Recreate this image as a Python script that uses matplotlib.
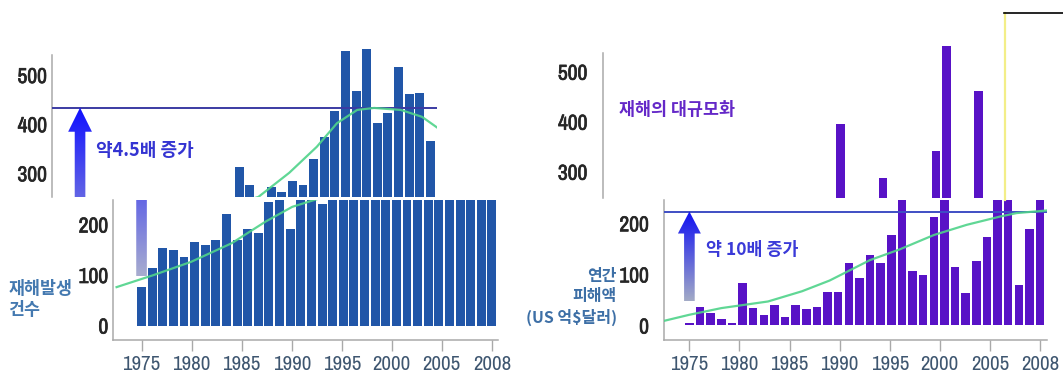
import numpy as np
import matplotlib.pyplot as plt
import matplotlib.patheffects as pe
from matplotlib import font_manager
from matplotlib.colors import LinearSegmentedColormap, Normalize
from matplotlib.patches import Polygon
from matplotlib.lines import Line2D

W, H = 1063, 377

years = np.arange(1975, 2009)
# 재해발생 건수
counts = [77, 113, 153, 150, 136, 166, 159, 169, 220, 169, 191, 184, 244, 250, 191,
          313, 276, 240, 273, 261, 285, 276, 329, 374, 427, 549, 468, 553, 403, 423,
          517, 461, 464, 366]
# 연간 피해액 (US 억$)
damage = [4, 37, 25, 12, 4, 84, 35, 21, 40, 16, 40, 32, 37, 65, 65,
          123, 92, 138, 123, 177, 395, 107, 99, 213, 287, 115, 64, 127, 174, 342,
          551, 79, 189, 462]

# trend lines
count_trend_x = [1972.65, 1976.15, 1979.66, 1983.5, 1986.7, 1989.2, 1991.8, 1994.7,
                 1997.3, 1999.2, 2001.1, 2002.7, 2005.2, 2007.2, 2008.9]
count_trend_y = [76, 100, 126, 163, 206, 235, 252, 301, 354, 402, 429, 433, 429, 415, 389]
damage_trend_x = [1972.6, 1975, 1978, 1982.4, 1985.6, 1988.2, 1990.1, 1992, 1994.8,
                  1998, 2001.1, 2004.2, 2005.8, 2008.6]
damage_trend_y = [9, 21, 34, 47, 67, 88, 108, 128, 149, 177, 197, 213, 220, 225]

count_level = 433.5
damage_level = 223

tick_labels = ['1975', '1980', '1985', '1990', '1995', '2000', '2005', '2008']
tick_pos = np.linspace(years[0], years[-1], len(tick_labels))


def narrow_font():
    fonts = font_manager.fontManager.ttflist
    for f in fonts:
        if 'Narrow' in f.name:
            return {'family': f.name}
    for f in fonts:
        if f.name == 'DejaVu Sans' and 'condensed' in str(f.stretch):
            return {'family': 'DejaVu Sans', 'stretch': 'condensed'}
    return {'family': 'Roboto'}


NUM = narrow_font()
KR = ['Noto Sans CJK KR', 'DejaVu Sans']

fig = plt.figure(figsize=(W / 100, H / 100), dpi=100)
fig.patch.set_facecolor('white')


def px_axes(x0, x1, y0, y1):
    return fig.add_axes([x0 / W, 1 - y1 / H, (x1 - x0) / W, (y1 - y0) / H])


def style_axes(ax, xlim, ylim, yticks, pad, lower, spine_top=None):
    ax.set_facecolor('none')
    ax.set_xlim(*xlim)
    ax.set_ylim(*ylim)
    for s in ['top', 'right']:
        ax.spines[s].set_visible(False)
    ax.spines['left'].set_color('#a9a9a9')
    ax.spines['left'].set_linewidth(1.1)
    if spine_top is not None:
        ax.spines['left'].set_bounds(ylim[0], spine_top)
    ax.set_yticks(yticks)
    ylabels = ax.set_yticklabels([str(t) for t in yticks], fontweight='bold',
                                 fontsize=15.5, color='#262626', **NUM)
    for t in ylabels:
        t.set_path_effects([pe.withStroke(linewidth=0.5, foreground='#262626')])
    ax.tick_params(axis='y', length=0, pad=pad)
    if lower:
        ax.spines['bottom'].set_color('#a9a9a9')
        ax.spines['bottom'].set_linewidth(1.1)
        ax.set_xticks(tick_pos)
        ax.set_xticklabels(tick_labels, fontsize=15, color='#3e5670', **NUM)
        ax.tick_params(axis='x', length=8, width=1, color='#a9a9a9', pad=3)
    else:
        ax.spines['bottom'].set_visible(False)
        ax.set_xticks([])


def gradient_arrow(ax, x, base, head_base, tip, sw, hw, c_bottom, c_top):
    verts = [(x - sw, base), (x + sw, base), (x + sw, head_base), (x + hw, head_base),
             (x, tip), (x - hw, head_base), (x - sw, head_base)]
    poly = Polygon(verts, closed=True, facecolor='none', edgecolor='none')
    ax.add_patch(poly)
    cmap = LinearSegmentedColormap.from_list('arr', [c_bottom, c_top])
    grad = np.linspace(base, tip, 256).reshape(-1, 1)
    im = ax.imshow(grad, extent=[x - hw, x + hw, base, tip], origin='lower',
                   aspect='auto', cmap=cmap, norm=Normalize(base, tip), zorder=3)
    im.set_clip_path(poly)


def draw_panel(ax, values, color, width, trend_x, trend_y, level, line_color):
    ax.bar(years, values, width=width, color=color, zorder=2)
    ax.axhline(level, color=line_color, lw=1.4, zorder=3)
    ax.plot(trend_x, trend_y, color='#4fd38a', lw=1.6, alpha=0.9, zorder=4)


# ---- 재해발생 건수 ----
xl_left = (1972.34, 2008.6)
shift = 61.5
ax_l_lo = px_axes(113.3, 498.3, 200, 340)
ax_l_hi = px_axes(113.3 - shift, 498.3 - shift, 30, 197)
for ax in (ax_l_lo, ax_l_hi):
    draw_panel(ax, counts, '#2156a8', 0.84, count_trend_x, count_trend_y,
               count_level, '#3b3ba3')
    gradient_arrow(ax, 1975, 98, 384.6, count_level, 0.5, 1.12, '#a8adcf', '#1010ff')
style_axes(ax_l_lo, xl_left, (-28.7, 248.5), [0, 100, 200], 3.6, True)
style_axes(ax_l_hi, xl_left, (251.8, 591.6), [300, 400, 500], 3.4, False, spine_top=540.7)
ax_l_hi.text(1976.5, 347, '약4.5배 증가', family=KR, fontweight='bold', fontsize=13,
             color='#3434d2', va='center', ha='left')
fig.text(8.3 / W, 1 - 299.6 / H, '재해발생\n건수', family=KR, fontweight='bold',
         fontsize=12.5, color='#4479b0', va='center', ha='left', linespacing=1.25)

# ---- 연간 피해액 ----
xl_right = (1972.61, 2008.63)
ax_r_lo = px_axes(664, 1046.7, 200, 340)
ax_r_hi = px_axes(664 - shift, 1046.7 - shift, 30, 198)
for ax in (ax_r_lo, ax_r_hi):
    draw_panel(ax, damage, '#5812c6', 0.8, damage_trend_x, damage_trend_y,
               damage_level, '#3f4ec4')
gradient_arrow(ax_r_lo, 1975, 47, 180, damage_level, 0.5, 1.08, '#a3abc6', '#1010f2')
style_axes(ax_r_lo, xl_right, (-28.4, 245.6), [0, 100, 200], 10.8, True)
style_axes(ax_r_hi, xl_right, (247.4, 583.4), [300, 400, 500], 10.8, False, spine_top=536.7)
ax_r_hi.text(1974.15, 423, '재해의 대규모화', family=KR, fontweight='bold', fontsize=12.5,
             color='#6428c8', va='center', ha='left')
ax_r_lo.text(1976.54, 148, '약 10배 증가', family=KR, fontweight='bold', fontsize=12.5,
             color='#3a3ad8', va='center', ha='left')
fig.text(617 / W, 1 - 297 / H, '연간\n피해액\n(US 억$달러)', family=KR, fontweight='bold',
         fontsize=11.5, color='#3d6fa6', va='center', ha='right', multialignment='right',
         linespacing=1.3)

# frame corner at top right
fig.add_artist(Line2D([1005 / W, 1005 / W], [1 - 13 / H, 1 - 200 / H],
                      transform=fig.transFigure, color='#f3ee88', lw=1.6))
fig.add_artist(Line2D([1004 / W, 1063 / W], [1 - 12.7 / H, 1 - 12.7 / H],
                      transform=fig.transFigure, color='black', lw=1.2))

fig.savefig('out.png', dpi=100, facecolor='white')
